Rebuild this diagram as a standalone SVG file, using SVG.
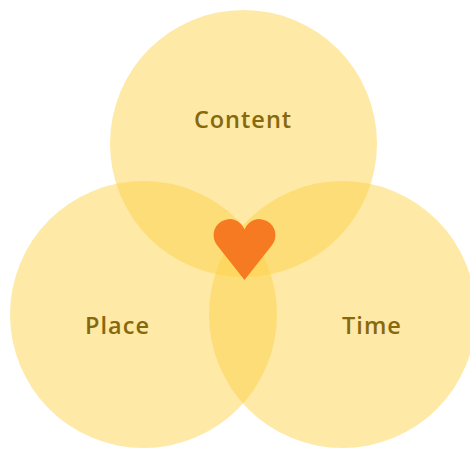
<svg xmlns="http://www.w3.org/2000/svg" width="470" height="450" viewBox="0 0 470 450">
  <style>
    .c { fill: #FDD245; fill-opacity: 0.48; }
    .t { font-family: "Open Sans", "Liberation Sans", sans-serif; font-weight: 600; font-size: 23.5px; letter-spacing: 1px; fill: #86680F; text-anchor: middle; }
    .h { fill: #F57A22; }
  </style>
  <rect width="470" height="450" fill="#FFFFFF"/>
  <g id="content">
    <circle class="c" cx="243.5" cy="143.5" r="133.5"/>
    <text class="t" x="243" y="127.5">Content</text>
  </g>
  <g id="place">
    <circle class="c" cx="143.5" cy="314.5" r="133.5"/>
    <text class="t" x="117.5" y="334">Place</text>
  </g>
  <g id="time">
    <circle class="c" cx="342.5" cy="314.5" r="133.5"/>
    <text class="t" x="372" y="334">Time</text>
  </g>
  <g id="connectors"></g>
  <g id="heart">
    <path class="h" d="M244.5,280 L216.9,244.9 A16,16 0 1 1 244.5,229.4 A16,16 0 1 1 272.1,244.9 Z"/>
  </g>
</svg>
